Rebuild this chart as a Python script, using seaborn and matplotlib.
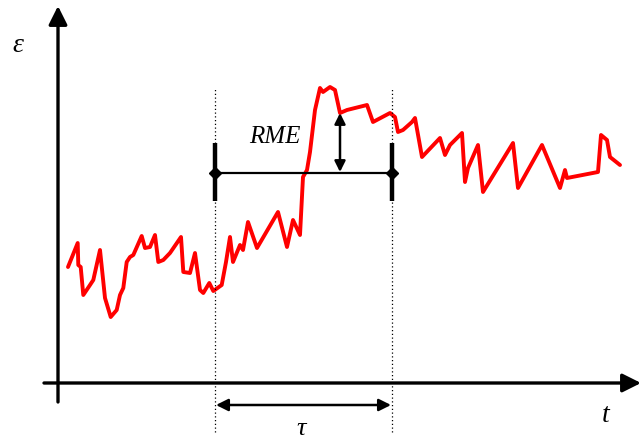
import numpy as np
import pandas as pd
import matplotlib
matplotlib.use("Agg")
import matplotlib.pyplot as plt
import seaborn as sns

# curve (t in px from left, eps in px from bottom)
t = [68, 77.7, 78.3, 80.7, 83.3, 90, 93.3, 100, 105, 110.7, 116.7, 120, 123.3, 126.7,
     130, 133.3, 141.7, 145, 150, 155, 158.3, 163.3, 170, 181, 183.3, 190, 195, 200,
     203.3, 209.3, 213.3, 221.7, 226, 230, 233, 240, 243, 248, 257, 278, 287, 293, 300,
     303, 307, 310, 315, 320, 323, 330, 335, 340, 347, 367, 373, 390, 395, 398, 403,
     412, 415, 422, 440, 445, 450, 462, 465, 468, 478, 483, 513, 518, 542, 560, 565,
     567, 598, 601, 607, 610, 620]
y_px = [267, 243, 265, 267, 295, 285, 280, 250, 298, 317, 310, 295, 288, 262,
        257, 255, 236, 248, 247, 235, 262, 260, 253, 237, 272, 273, 253, 290,
        293, 283, 291, 285, 262, 237, 262, 245, 250, 222, 248, 212, 247, 220, 235,
        177, 170, 152, 110, 88, 92, 87, 90, 113, 110, 105, 122, 113, 117, 132, 130,
        122, 118, 157, 138, 155, 145, 133, 182, 168, 145, 192, 143, 188, 145, 188, 170,
        178, 172, 135, 140, 157, 165]
H = 443
eps = [H - v for v in y_px]

df = pd.DataFrame({"t": t, "eps": eps})

sns.set_theme(style="white")
plt.rcParams["font.family"] = ["Liberation Serif", "DejaVu Serif"]
plt.rcParams["text.color"] = "black"

fig = plt.figure(figsize=(6.41, 4.43), dpi=100)
ax = fig.add_axes([0, 0, 1, 1])
ax.set_xlim(0, 641)
ax.set_ylim(0, H)
ax.axis("off")

sns.lineplot(data=df, x="t", y="eps", sort=False, color="#ff0000",
             linewidth=2.8, ax=ax, legend=False, solid_joinstyle="round")

arrow = dict(arrowstyle="-|>", color="black", lw=2.4, mutation_scale=28,
             shrinkA=0, shrinkB=0)
# axes
ax.annotate("", xy=(58, H - 6), xytext=(58, H - 402), arrowprops=arrow)
ax.annotate("", xy=(641, H - 383), xytext=(44, H - 383), arrowprops=arrow)
ax.text(18, H - 45, "ε", fontsize=20, style="italic", ha="center", va="center",
        color="black")
ax.text(606, H - 416, "t", fontsize=20, style="italic", ha="center", va="center",
        color="black")

# dotted window bounds
for xv in (215, 392):
    ax.plot([xv, xv], [H - 432, H - 88], color="black", lw=0.9,
            linestyle=(0, (1, 2)))

# window bar
ax.plot([215, 392], [H - 173, H - 173], color="black", lw=1.6)
for xv in (215, 392):
    ax.plot([xv, xv], [H - 143, H - 201], color="black", lw=3.2,
            solid_capstyle="butt")
ax.plot([215, 392], [H - 173, H - 173], linestyle="none", marker="D",
        markersize=6, color="black")

# RME arrow
ax.annotate("", xy=(340, H - 113), xytext=(340, H - 172),
            arrowprops=dict(arrowstyle="<|-|>", color="black", lw=1.8,
                            mutation_scale=16, shrinkA=0, shrinkB=0))
ax.text(275, H - 137, "RME", fontsize=18, style="italic", ha="center", va="center",
        color="black")

# tau arrow
ax.annotate("", xy=(216, H - 405), xytext=(391, H - 405),
            arrowprops=dict(arrowstyle="<|-|>", color="black", lw=1.8,
                            mutation_scale=18, shrinkA=0, shrinkB=0))
ax.text(301, H - 429, "τ", fontsize=19, style="italic", ha="center", va="center",
        color="black")

fig.savefig("out.png", dpi=100, facecolor="white")
